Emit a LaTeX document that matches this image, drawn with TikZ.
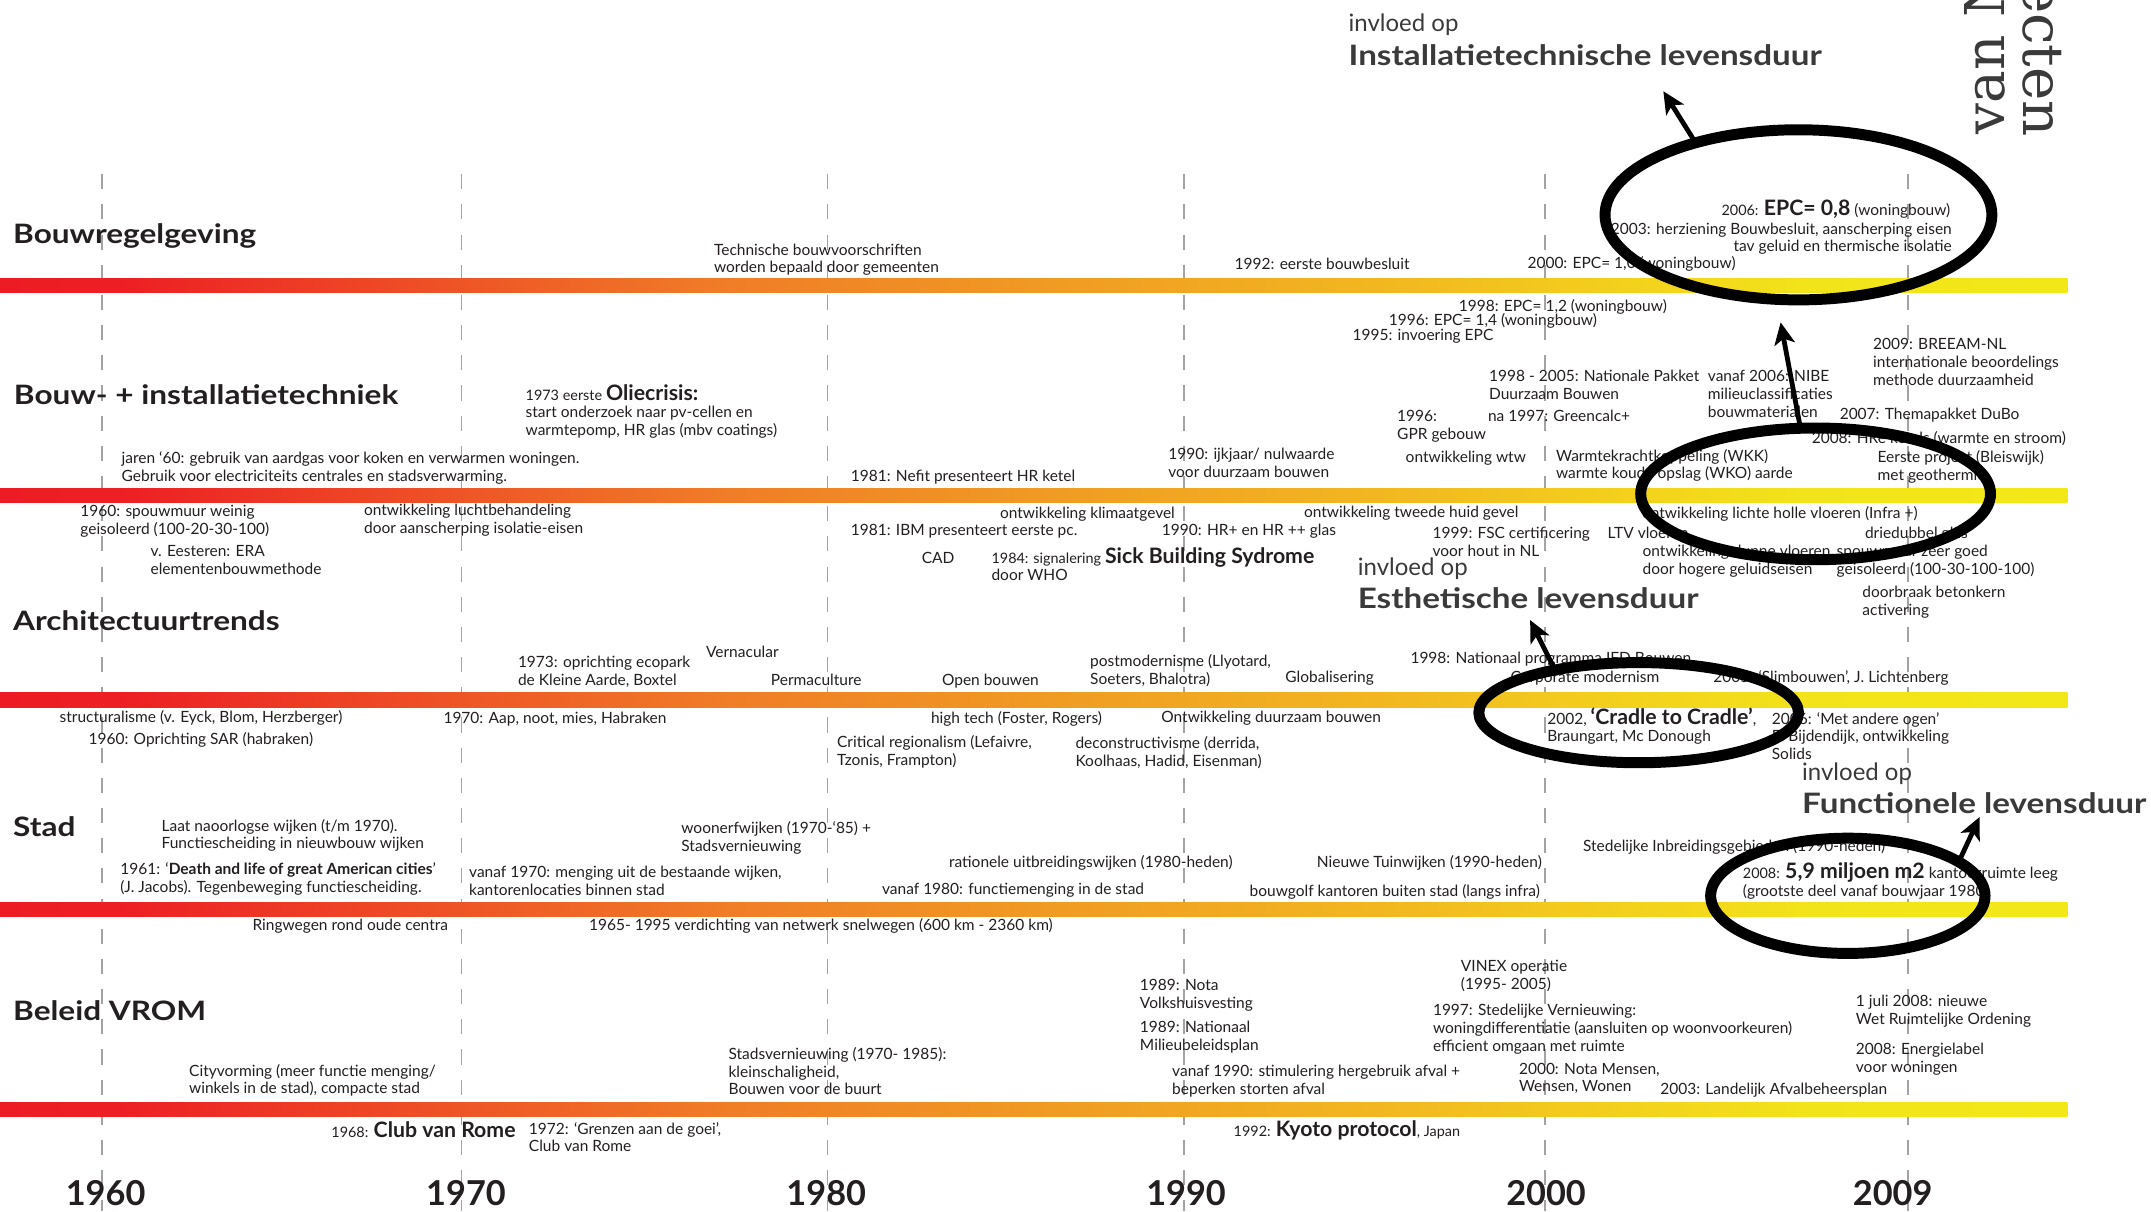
\documentclass[tikz,border=0pt]{standalone}
\usepackage{fontspec}
\usepackage{graphicx}
\setmainfont{Lato}
\newfontfamily\serifA{DejaVu Serif}
\usetikzlibrary{arrows.meta,shapes.geometric}
\definecolor{ink}{HTML}{231F20}
\definecolor{gridgray}{HTML}{A3A3A3}
\definecolor{titlegray}{HTML}{3A3A3A}
\definecolor{g0}{HTML}{ED1C24}
\definecolor{g1}{HTML}{ED1F24}
\definecolor{g2}{HTML}{EE5526}
\definecolor{g3}{HTML}{F07C27}
\definecolor{g4}{HTML}{F09B23}
\definecolor{g5}{HTML}{F2BA20}
\definecolor{g6}{HTML}{F3D31C}
\definecolor{g7}{HTML}{F2E41A}
\definecolor{g8}{HTML}{F2E817}
\pgfdeclarehorizontalshading{tbar}{100bp}{color(0bp)=(g0); color(25bp)=(g0); color(27.99bp)=(g1); color(36.15bp)=(g2); color(42.42bp)=(g3); color(50.41bp)=(g4); color(59.17bp)=(g5); color(64.81bp)=(g6); color(68.8bp)=(g7); color(75bp)=(g8); color(100bp)=(g8)}
\newcommand\smp[1]{{\fontsize{10.5}{13}\selectfont #1}}
\newcommand\bgb[1]{{\fontsize{15.5}{13}\selectfont\bfseries #1}}
\newcommand\mlines[1]{\vtop{\baselineskip=13pt\lineskiplimit=-50pt\lineskip=0pt #1}}
\newcommand\Lh[1]{\hbox{#1}}
\newcommand\wide[1]{\scalebox{1.18}[1]{#1}}
\tikzset{
  txt/.style={anchor=base west, inner sep=0pt, outer sep=0pt, text=ink, font=\fontsize{11.3}{13}\selectfont},
  txtr/.style={txt, anchor=base east},
  ttl/.style={anchor=base west, inner sep=0pt, text=ink, font=\fontsize{19.5}{22}\selectfont\bfseries},
  yrs/.style={anchor=base, inner sep=0pt, text=ink, font=\fontsize{25}{28}\selectfont\bfseries},
  infl/.style={anchor=base west, inner sep=0pt, text=titlegray, font=\fontsize{17.5}{20}\selectfont},
  lev/.style={anchor=base west, inner sep=0pt, text=titlegray, font=\fontsize{20.5}{24}\selectfont\bfseries},
  gline/.style={draw=gridgray, line width=1pt, dash pattern=on 11pt off 11pt},
  ring/.style={draw=black, ellipse, line width=8pt, inner sep=0pt, outer sep=0pt},
  arr/.style={draw=black, line width=3.5pt, -{Stealth[length=16pt, width=15pt, inset=4pt]}},
  rot/.style={inner sep=0pt, text=titlegray}
}
\begin{document}
\begin{tikzpicture}[x=1pt,y=-1pt]
\useasboundingbox (0,0) rectangle (1568,883);
\clip (0,0) rectangle (1568,883);
\fill[white] (0,0) rectangle (1568,883);
% grid lines
\foreach \gx in {74.3,336.4,603,863.1,1126.3,1390.9} {\draw[gline] (\gx,127) -- (\gx,883);}
% bars
\shade[shading=tbar] (0,203) rectangle (1507,213);
\shade[shading=tbar] (0,356) rectangle (1507,366.4);
\shade[shading=tbar] (0,505) rectangle (1507,515.4);
\shade[shading=tbar] (0,658) rectangle (1507,668.2);
\shade[shading=tbar] (0,803.5) rectangle (1507,814);
% titles
\node[ttl] (ttl1) at (9.4,177.4) {\wide{Bouwregelgeving}};
\node[ttl] (ttl2) at (10,295.2) {\wide{Bouw- + installatietechniek}};
\node[ttl] (ttl3) at (9.4,459.7) {\wide{Architectuurtrends}};
\node[ttl] (ttl4) at (9.4,610) {\wide{Stad}};
\node[ttl] (ttl5) at (9.4,743.6) {\wide{Beleid VROM}};
% years
\node[yrs] (y1960) at (77,879) {1960};
\node[yrs] (y1970) at (339.7,879) {1970};
\node[yrs] (y1980) at (602.3,879) {1980};
\node[yrs] (y1990) at (864.6,879) {1990};
\node[yrs] (y2000) at (1127,879) {2000};
\node[yrs] (y2009) at (1379.7,879) {2009};
% influence labels
\node[infl] (inf1) at (982.9,23.1) {invloed op};
\node[lev] (lev1) at (982.9,47.4) {\wide{Installatietechnische levensduur}};
\node[infl] (inf2) at (989.6,419.2) {invloed op};
\node[lev] (lev2) at (989.6,443.5) {\wide{Esthetische levensduur}};
\node[infl] (inf3) at (1313.5,568.6) {invloed op};
\node[lev] (lev3) at (1313.5,592.9) {\wide{Functionele levensduur}};
% rotated title fragment
\node[rot, rotate=90, anchor=base west, font=\serifA\fontsize{40}{40}\selectfont] (r1) at (1461,98) {van N};
\node[rot, rotate=-90, anchor=base east, font=\serifA\fontsize{41}{41}\selectfont] (r2) at (1475,100) {ecten};
% Bouwregelgeving
\node[txt] (a1) at (520.5,185.9) {\mlines{\Lh{Technische bouwvoorschriften}\Lh{worden bepaald door gemeenten}}};
\node[txt] (a2) at (900,196.3) {1992: eerste bouwbesluit};
\node[txt] (a3) at (1113.5,195.7) {2000: EPC= 1,0 (woningbouw)};
\node[txtr] (a4) at (1421.7,157.4) {\smp{2006:} \bgb{EPC= 0,8} (woningbouw)};
\node[txtr] (a5) at (1422.8,170.9) {2003: herziening Bouwbesluit, aanscherping eisen};
\node[txtr] (a6) at (1422.8,183.6) {tav geluid en thermische isolatie};
\node[txt] (a7) at (1063.4,226.8) {1998: EPC= 1,2 (woningbouw)};
\node[txt] (a8) at (1012.4,237) {1996: EPC= 1,4 (woningbouw)};
\node[txt] (a9) at (986,248.3) {1995: invoering EPC};
% Bouw- + installatietechniek
\node[txt] (b1) at (383.2,291.6) {\smp{1973 eerste} \bgb{Oliecrisis:}};
\node[txt] (b1b) at (383.2,304.2) {\mlines{\Lh{start onderzoek naar pv-cellen en}\Lh{warmtepomp, HR glas (mbv coatings)}}};
\node[txt] (b2) at (88.7,337.8) {\mlines{\Lh{jaren ‘60: gebruik van aardgas voor koken en verwarmen woningen.}\Lh{Gebruik voor electriciteits centrales en stadsverwarming.}}};
\node[txt] (b3) at (620.2,350.7) {1981: Nefit presenteert HR ketel};
\node[txt] (b4) at (851.7,334.8) {\mlines{\Lh{1990: ijkjaar/ nulwaarde}\Lh{voor duurzaam bouwen}}};
\node[txt] (b5) at (1018.5,307.2) {\mlines{\Lh{1996:}\Lh{GPR gebouw}}};
\node[txt] (b6) at (1024.7,337.5) {ontwikkeling wtw};
\node[txt] (b7) at (1085.5,278.1) {\mlines{\Lh{1998 - 2005: Nationale Pakket}\Lh{Duurzaam Bouwen}}};
\node[txt] (b8) at (1084.7,307.2) {na 1997: Greencalc+};
\node[txt] (b9) at (1245,278.1) {\mlines{\Lh{vanaf 2006: NIBE}\Lh{milieuclassificaties}\Lh{bouwmaterialen}}};
\node[txt] (b10) at (1365.4,255.1) {\mlines{\Lh{2009: BREEAM-NL}\Lh{internationale beoordelings}\Lh{methode duurzaamheid}}};
\node[txt] (b11) at (1341.1,305.6) {2007: Themapakket DuBo};
\node[txt] (b12) at (1320.7,323.2) {2008: HRe ketels (warmte en stroom)};
\node[txt] (b13) at (1134.3,336.1) {\mlines{\Lh{Warmtekrachtkoppeling (WKK)}\Lh{warmte koude opslag (WKO) aarde}}};
\node[txt] (b14) at (1368.7,337.5) {\mlines{\Lh{Eerste project (Bleiswijk)}\Lh{met geothermie}}};
\node[txt] (b15) at (58.6,376.6) {\mlines{\Lh{1960: spouwmuur weinig}\Lh{geisoleerd (100-20-30-100)}}};
\node[txt] (b16) at (109.8,405.8) {\mlines{\Lh{v. Eesteren: ERA}\Lh{elementenbouwmethode}}};
\node[txt] (b17) at (265.4,376.1) {\mlines{\Lh{ontwikkeling luchtbehandeling}\Lh{door aanscherping isolatie-eisen}}};
\node[txt] (b18) at (729,377.8) {ontwikkeling klimaatgevel};
\node[txt] (b19) at (620.2,390) {1981: IBM presenteert eerste pc.};
\node[txt] (b20) at (672,410.6) {CAD};
\node[txt] (b21) at (722.8,410.6) {\smp{1984: signalering} \bgb{Sick Building Sydrome}};
\node[txt] (b21b) at (722.8,422.8) {door WHO};
\node[txt] (b22) at (847,390.7) {1990: HR+ en HR ++ glas};
\node[txt] (b23) at (950.6,377.3) {ontwikkeling tweede huid gevel};
\node[txt] (b24) at (1044.3,392.8) {\mlines{\Lh{1999: FSC certificering}\Lh{voor hout in NL}}};
\node[txt] (b25) at (1171.9,392.8) {LTV vloeren};
\node[txt] (b26) at (1197,378) {ontwikkeling lichte holle vloeren (Infra +)};
\node[txt] (b27) at (1197.4,405.8) {\mlines{\Lh{ontwikkeling dunne vloeren}\Lh{door hogere geluidseisen}}};
\node[txt] (b28) at (1359.5,392.8) {driedubbel glas};
\node[txt] (b29) at (1338.9,405.8) {\mlines{\Lh{spouwmuur zeer goed}\Lh{geisoleerd (100-30-100-100)}}};
\node[txt] (b30) at (1357.6,435.4) {\mlines{\Lh{doorbraak betonkern}\Lh{activering}}};
% Architectuurtrends
\node[txt] (c1) at (514.7,479.2) {Vernacular};
\node[txt] (c2) at (377.6,486.5) {\mlines{\Lh{1973: oprichting ecopark}\Lh{de Kleine Aarde, Boxtel}}};
\node[txt] (c3) at (562,499.8) {Permaculture};
\node[txt] (c4) at (686.7,499.8) {Open bouwen};
\node[txt] (c5) at (794.7,486) {\mlines{\Lh{postmodernisme (Llyotard,}\Lh{Soeters, Bhalotra)}}};
\node[txt] (c6) at (937,497.6) {Globalisering};
\node[txt] (c7) at (1028.2,483.6) {1998: Nationaal programma IFD Bouwen};
\node[txtr] (c8) at (1209.6,497.6) {Corporate modernism};
\node[txt] (c9) at (1249,497.6) {2005: ‘Slimbouwen’, J. Lichtenberg};
\node[txt] (c10) at (43.5,526.8) {structuralisme (v. Eyck, Blom, Herzberger)};
\node[txt] (c11) at (64.6,543) {1960: Oprichting SAR (habraken)};
\node[txt] (c12) at (323.3,527.3) {1970: Aap, noot, mies, Habraken};
\node[txt] (c13) at (678.7,527.3) {high tech (Foster, Rogers)};
\node[txt] (c14) at (846.6,526.8) {Ontwikkeling duurzaam bouwen};
\node[txt] (c15) at (610.2,544.8) {\mlines{\Lh{Critical regionalism (Lefaivre,}\Lh{Tzonis, Frampton)}}};
\node[txt] (c16) at (784,545.5) {\mlines{\Lh{deconstructivisme (derrida,}\Lh{Koolhaas, Hadid, Eisenman)}}};
\node[txt] (c17) at (1127.9,527.8) {2002, \bgb{‘Cradle to Cradle’},};
\node[txt] (c17b) at (1127.9,540.7) {Braungart, Mc Donough};
\node[txt] (c18) at (1291.6,527.8) {\mlines{\Lh{2006: ‘Met andere ogen’}\Lh{E. Bijdendijk, ontwikkeling}\Lh{Solids}}};
% Stad
\node[txt] (d1) at (117.8,605.8) {\mlines{\Lh{Laat naoorlogse wijken (t/m 1970).}\Lh{Functiescheiding in nieuwbouw wijken}}};
\node[txt] (d2) at (87.7,637.8) {\mlines{\Lh{1961: ‘\textbf{Death and life of great American cities}’}\Lh{(J. Jacobs). Tegenbeweging functiescheiding.}}};
\node[txt] (d3) at (496.7,607.5) {\mlines{\Lh{woonerfwijken (1970-‘85) +}\Lh{Stadsvernieuwing}}};
\node[txt] (d4) at (342,639.5) {\mlines{\Lh{vanaf 1970: menging uit de bestaande wijken,}\Lh{kantorenlocaties binnen stad}}};
\node[txt] (d5) at (691.8,632.3) {rationele uitbreidingswijken (1980-heden)};
\node[txt] (d6) at (643,652.4) {vanaf 1980: functiemenging in de stad};
\node[txt] (d7) at (960,632.3) {Nieuwe Tuinwijken (1990-heden)};
\node[txt] (d8) at (911,653.2) {bouwgolf kantoren buiten stad (langs infra)};
\node[txt] (d9) at (1154,620.8) {Stedelijke Inbreidingsgebieden (1990-heden)};
\node[txt] (d10) at (1270.5,640.3) {\smp{2008:} \bgb{5,9 miljoen m2} kantoorruimte leeg};
\node[txt] (d10b) at (1270.5,653.2) {(grootste deel vanaf bouwjaar 1980)};
\node[txt] (d11) at (184.1,678.4) {Ringwegen rond oude centra};
\node[txt] (d12) at (429.4,678.4) {1965- 1995 verdichting van netwerk snelwegen (600 km - 2360 km)};
% Beleid VROM
\node[txt] (v1) at (831,722.2) {\mlines{\Lh{1989: Nota}\Lh{Volkshuisvesting}}};
\node[txt] (v2) at (831,752.8) {\mlines{\Lh{1989: Nationaal}\Lh{Milieubeleidsplan}}};
\node[txt] (v3) at (1065,708.3) {\mlines{\Lh{VINEX operatie}\Lh{(1995- 2005)}}};
\node[txt] (v4) at (1044.6,740.4) {\mlines{\Lh{1997: Stedelijke Vernieuwing:}\Lh{woningdifferentiatie (aansluiten op woonvoorkeuren)}\Lh{efficient omgaan met ruimte}}};
\node[txt] (v5) at (1352.9,733.8) {\mlines{\Lh{1 juli 2008: nieuwe}\Lh{Wet Ruimtelijke Ordening}}};
\node[txt] (v6) at (1352.9,768.6) {\mlines{\Lh{2008: Energielabel}\Lh{voor woningen}}};
\node[txt] (v7) at (137.9,784.4) {\mlines{\Lh{Cityvorming (meer functie menging/}\Lh{winkels in de stad), compacte stad}}};
\node[txt] (v8) at (531.1,772.2) {\mlines{\Lh{Stadsvernieuwing (1970- 1985):}\Lh{kleinschaligheid,}\Lh{Bouwen voor de buurt}}};
\node[txt] (v9) at (854.5,784.9) {\mlines{\Lh{vanaf 1990: stimulering hergebruik afval +}\Lh{beperken storten afval}}};
\node[txt] (v10) at (1107.3,782.9) {\mlines{\Lh{2000: Nota Mensen,}\Lh{Wensen, Wonen}}};
\node[txt] (v11) at (1210.3,798.2) {2003: Landelijk Afvalbeheersplan};
\node[txt] (v12) at (241.6,829.1) {\smp{1968:} \bgb{Club van Rome}};
\node[txt] (v13) at (385.6,826.7) {\mlines{\Lh{1972: ‘Grenzen aan de goei’,}\Lh{Club van Rome}}};
\node[txt] (v14) at (899.3,828.6) {\smp{1992:} \bgb{Kyoto protocol}\smp{, Japan}};
% ellipses
\node[ring, minimum width=282pt, minimum height=124pt] (e1) at (1311,156.6) {};
\node[ring, minimum width=255pt, minimum height=96pt] (e2) at (1323.5,360) {};
\node[ring, minimum width=233pt, minimum height=73pt] (e3) at (1194.5,519.5) {};
\node[ring, minimum width=200pt, minimum height=84pt] (e4) at (1347,653) {};
% arrow tips
\coordinate (t1) at (1212.5,66.5);
\coordinate (t2) at (1298,235);
\coordinate (t3) at (1115.4,452);
\coordinate (t4) at (1443,595.6);
\draw[arr] (e1.145) -- (t1);
\draw[arr] (e2.103) -- (t2);
\draw[arr] (e3.153) -- (t3);
\draw[arr] (e4.17) -- (t4);
\end{tikzpicture}
\end{document}
